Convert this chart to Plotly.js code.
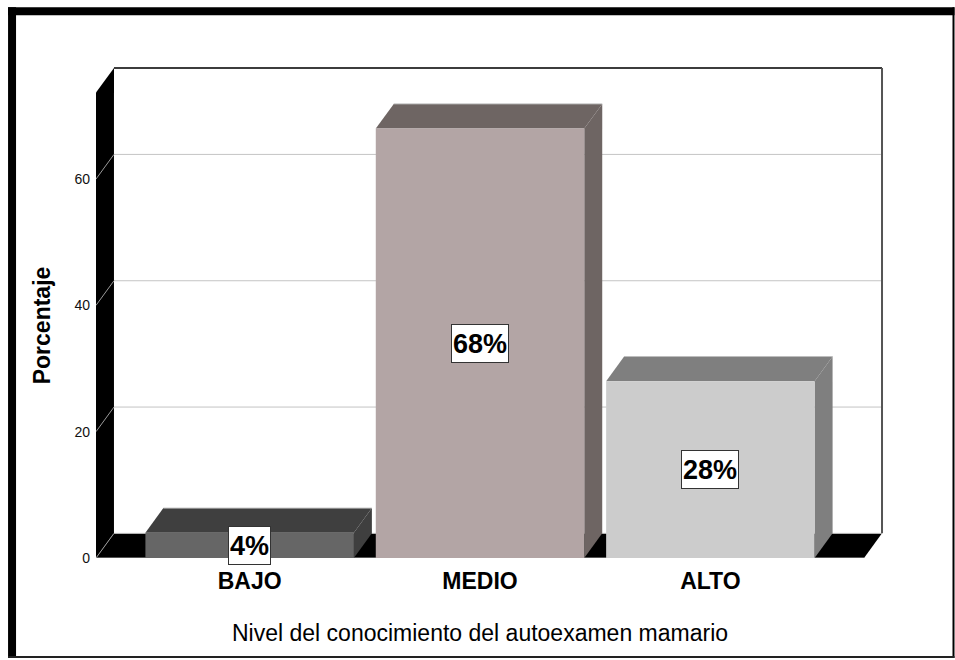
<!DOCTYPE html>
<html>
<head>
<meta charset="utf-8">
<script src="https://cdn.plot.ly/plotly-3.0.1.min.js"></script>
<style>html,body{margin:0;padding:0;background:#fff;}#chart{width:955px;height:660px;}</style>
</head>
<body>
<div id="chart"></div>
<script>
// ---- data ----
const categories = ['BAJO', 'MEDIO', 'ALTO'];
const percentages = [4, 68, 28];
const yTickValues = [0, 20, 40, 60];
const yTickLabels = ['0', '20', '40', '60'];
const xTitle = 'Nivel del conocimiento del autoexamen mamario';
const yTitle = 'Porcentaje';

// ---- styling / geometry ----
const frontColors = ['#666666', '#b3a5a5', '#cccccc'];
const depthColors = ['#3f3f3f', '#6e6563', '#7f7f7f'];
const X0 = -0.667, X1 = 2.667;     // front plane extent (category units)
const DX = 0.078, DY = 3.9;        // 3D depth offset (data units)
const YTOP = 73.7;                 // wall height
const BW = 0.905;                  // bar width
const PXX = 230.5, PXY = 6.32;     // pixels per unit
const W = 955, H = 660;
const L = 96, B = 102;
const xr = [X0, X1 + DX + 0.013];
const yr = [0, YTOP + DY + 0.3];
const plotW = (xr[1] - xr[0]) * PXX;
const plotH = (yr[1] - yr[0]) * PXY;
const R = W - L - plotW;
const T = H - B - plotH;
const pxX = p => (p - L) / plotW;
const pxY = p => (H - B - p) / plotH;

const shapes = [];
function poly(pts, color, layer) {
  let d = 'M' + pts.map(p => p[0] + ',' + p[1]).join(' L') + ' Z';
  shapes.push({type: 'path', xref: 'x', yref: 'y', path: d, fillcolor: color,
               line: {width: 0}, layer: layer || 'below'});
}
function seg(x0, y0, x1, y1, color, w) {
  shapes.push({type: 'line', xref: 'x', yref: 'y', x0, y0, x1, y1,
               line: {color, width: w}, layer: 'below'});
}
// floor and left wall
poly([[X0, 0], [X1, 0], [X1 + DX, DY], [X0 + DX, DY]], '#000000');
poly([[X0, 0], [X0, YTOP], [X0 + DX, YTOP + DY], [X0 + DX, DY]], '#000000');
// gridlines
yTickValues.forEach(t => {
  seg(X0 + DX, t + DY, X1 + DX, t + DY, '#c4c4c4', 1);
  seg(X0, t, X0 + DX, t + DY, '#9a9a9a', 1);
});
seg(X0, 0, X1, 0, '#a8a8a8', 1);
// back wall borders
seg(X0 + DX, YTOP + DY, X1 + DX, YTOP + DY, '#3c3c3c', 2);
seg(X1 + DX, DY, X1 + DX, YTOP + DY, '#555555', 2);
// bar top and side faces
categories.forEach((c, i) => {
  const v = percentages[i];
  const a = i - BW / 2, b = i + BW / 2;
  poly([[a, v], [a + DX, v + DY], [b + DX, v + DY], [b, v]], depthColors[i]);
  poly([[b, v], [b + DX, v + DY], [b + DX, DY], [b, 0]], depthColors[i]);
  seg(a + DX, v + DY, b + DX, v + DY, '#bdbdbd', 1);
});

// outer frame (paper coordinates)
function prect(x0, y0, x1, y1, color) {
  shapes.push({type: 'rect', xref: 'paper', yref: 'paper',
    x0: pxX(x0), x1: pxX(x1), y0: pxY(y0), y1: pxY(y1),
    fillcolor: color, line: {width: 0}, layer: 'above'});
}
prect(8, 7, 955, 15, '#000000');
prect(8, 7, 16, 658, '#000000');
prect(953, 7, 955, 658, '#000000');
prect(8, 656, 955, 658, '#222222');

const annotations = categories.map((c, i) => ({
  x: i, y: percentages[i] / 2, xref: 'x', yref: 'y',
  text: '<b>' + percentages[i] + '%</b>', showarrow: false,
  font: {family: '"Liberation Sans Narrow", "Arial Narrow", "Liberation Sans", Arial, sans-serif', size: 27, color: '#000'},
  bgcolor: '#ffffff', bordercolor: '#333333', borderwidth: 1, borderpad: 1,
  height: 35
}));
annotations.push({
  x: 1, xref: 'x', y: pxY(633), yref: 'paper', text: xTitle, showarrow: false,
  xanchor: 'center', yanchor: 'middle',
  font: {family: '"Liberation Sans", Arial, sans-serif', size: 23, color: '#000'}
});
annotations.push({
  x: pxX(42), xref: 'paper', y: YTOP / 2, yref: 'y', text: '<b>' + yTitle + '</b>',
  showarrow: false, textangle: -90, xanchor: 'center', yanchor: 'middle',
  font: {family: '"Liberation Sans", Arial, sans-serif', size: 23, color: '#000'}
});

const trace = {
  type: 'bar', x: categories.map((c, i) => i), y: percentages, width: BW,
  marker: {color: frontColors, line: {width: 0}}, hoverinfo: 'none'
};

const layout = {
  width: W, height: H,
  margin: {l: L, r: R, t: T, b: B, pad: 0},
  paper_bgcolor: '#ffffff', plot_bgcolor: '#ffffff',
  showlegend: false,
  xaxis: {range: xr, tickvals: categories.map((c, i) => i),
          ticktext: categories.map(c => '<b>' + c + '</b>'),
          showgrid: false, zeroline: false, showline: false, ticks: '',
          ticklabelstandoff: 7, fixedrange: true,
          tickfont: {family: '"Liberation Sans", Arial, sans-serif', size: 23, color: '#000'}},
  yaxis: {range: yr, tickvals: yTickValues, ticktext: yTickLabels,
          showgrid: false, zeroline: false, showline: false, ticks: '',
          ticklabelstandoff: 5, fixedrange: true,
          tickfont: {family: '"Liberation Sans", Arial, sans-serif', size: 14, color: '#111'}},
  shapes: shapes,
  annotations: annotations
};

Plotly.newPlot('chart', [trace], layout, {staticPlot: true, displayModeBar: false});
</script>
</body>
</html>
